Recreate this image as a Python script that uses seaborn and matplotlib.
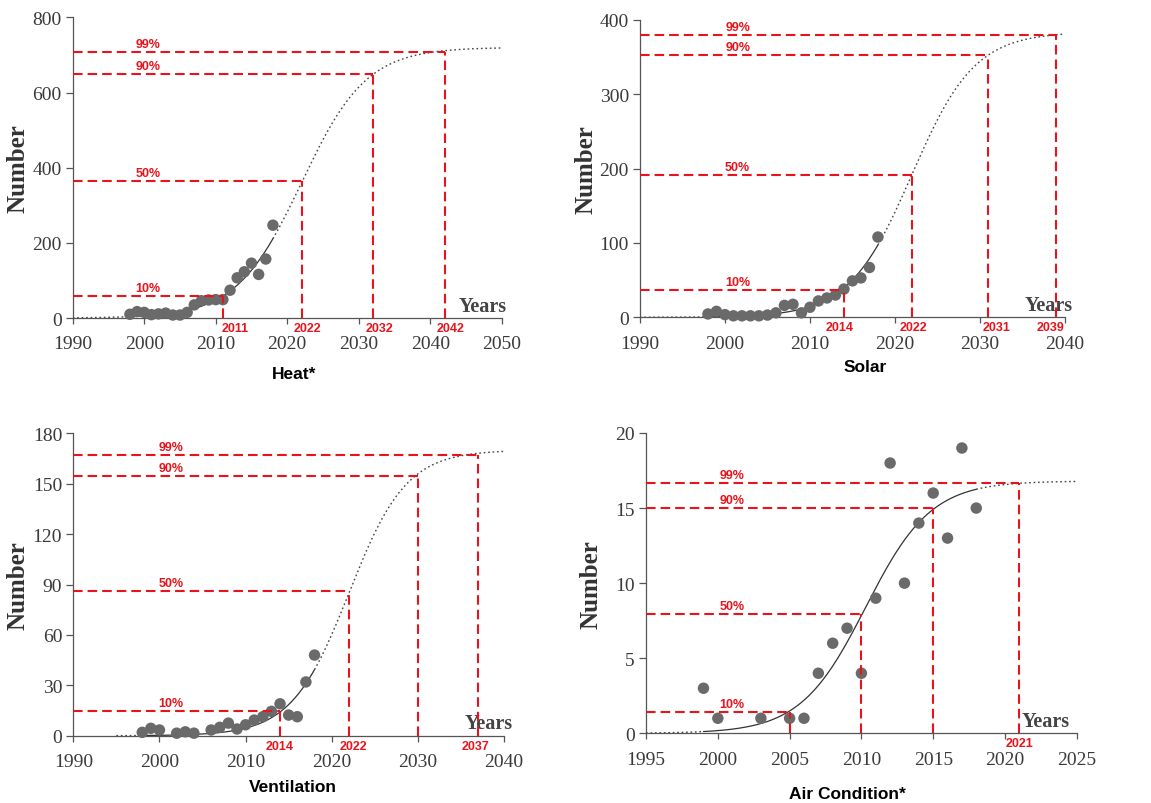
import numpy as np
import pandas as pd
import matplotlib
matplotlib.use("Agg")
import matplotlib.pyplot as plt
import seaborn as sns

# ---------------- data ----------------
heat_years = list(range(1998, 2019))
heat_values = [10, 17, 15, 9, 11, 13, 8, 8, 15, 35, 46, 48, 49, 49, 74, 107, 123, 146, 116, 157, 247]

solar_years = list(range(1998, 2019))
solar_values = [4.5, 8, 3.6, 2, 2, 2, 2, 3, 6, 16, 17.5, 6, 13.5, 22, 26, 30, 38, 49, 53, 67, 108]

vent_years = [1998, 1999, 2000, 2002, 2003, 2004, 2006, 2007, 2008, 2009, 2010,
              2011, 2012, 2013, 2014, 2015, 2016, 2017, 2018]
vent_values = [2, 4.4, 3.4, 1.5, 2.3, 1.5, 3.4, 5, 7.5, 4, 6.5, 9.3, 11.3, 14.5, 19, 12.3, 11.3, 32, 48]

air_years = [1999, 2000, 2003, 2005, 2006, 2007, 2008, 2009, 2010, 2011, 2012,
             2013, 2014, 2015, 2016, 2017, 2018]
air_values = [3, 1, 1, 1, 1, 4, 6, 7, 4, 9, 18, 10, 14, 16, 13, 19, 15]

# fitted logistic parameters: saturation K, growth rate r, midpoint t0
heat_fit = dict(K=720, r=0.22, t0=2022)
solar_fit = dict(K=384, r=0.27, t0=2022)
vent_fit = dict(K=170, r=0.30, t0=2022)
air_fit = dict(K=16.8, r=0.44, t0=2010.3)

percent_labels = ["10%", "50%", "90%", "99%"]
heat_levels = [59, 364, 648, 708]
heat_level_years = [2011, 2022, 2032, 2042]
heat_year_labels = ["2011", "2022", "2032", "2042"]

solar_levels = [37, 192, 353, 380]
solar_level_years = [2014, 2022, 2031, 2039]
solar_year_labels = ["2014", "2022", "2031", "2039"]

vent_levels = [14.5, 86, 154.5, 167]
vent_level_years = [2014, 2022, 2030, 2037]
vent_year_labels = ["2014", "2022", "", "2037"]

air_levels = [1.42, 7.95, 15.0, 16.67]
air_level_years = [2005, 2010, 2015, 2021]
air_year_labels = ["", "", "", "2021"]

heat_xticks = [1990, 2000, 2010, 2020, 2030, 2040, 2050]
heat_yticks = [0, 200, 400, 600, 800]
solar_xticks = [1990, 2000, 2010, 2020, 2030, 2040]
solar_yticks = [0, 100, 200, 300, 400]
vent_xticks = [1990, 2000, 2010, 2020, 2030, 2040]
vent_yticks = [0, 30, 60, 90, 120, 150, 180]
air_xticks = [1995, 2000, 2005, 2010, 2015, 2020, 2025]
air_yticks = [0, 5, 10, 15, 20]

titles = ["Heat*", "Solar", "Ventilation", "Air Condition*"]

# ---------------- style ----------------
sns.set_theme(style="ticks")
plt.rcParams["font.family"] = ["Liberation Sans", "DejaVu Sans"]

RED = "#e8141c"
GREY_PT = "#6a6a6a"
AX_COL = "#555555"
TXT_COL = "#3a3a3a"

fig = plt.figure(figsize=(11.51, 8.04), dpi=100)

panels = [
    dict(rect=[0.0632, 0.6032, 0.3727, 0.3740], years=heat_years, values=heat_values,
         fit=heat_fit, levels=heat_levels, lyears=heat_level_years, ylabels=heat_year_labels,
         xticks=heat_xticks, yticks=heat_yticks, curve_start=1990,
         pct_x=0.176, year_dx=[12, 6, 6, 6], years_x=1.012, title=titles[0],
         title_pos=(0.516, -0.183)),
    dict(rect=[0.5560, 0.6041, 0.3692, 0.3698], years=solar_years, values=solar_values,
         fit=solar_fit, levels=solar_levels, lyears=solar_level_years, ylabels=solar_year_labels,
         xticks=solar_xticks, yticks=solar_yticks, curve_start=1990,
         pct_x=0.23, year_dx=[-4, 2, 8, -6], years_x=1.019, title=titles[1],
         title_pos=(0.529, -0.167)),
    dict(rect=[0.0637, 0.0837, 0.3742, 0.3761], years=vent_years, values=vent_values,
         fit=vent_fit, levels=vent_levels, lyears=vent_level_years, ylabels=vent_year_labels,
         xticks=vent_xticks, yticks=vent_yticks, curve_start=1995,
         pct_x=0.227, year_dx=[0, 4, 0, -3], years_x=1.021, title=titles[2],
         title_pos=(0.51, -0.169)),
    dict(rect=[0.5613, 0.0867, 0.3742, 0.3735], years=air_years, values=air_values,
         fit=air_fit, levels=air_levels, lyears=air_level_years, ylabels=air_year_labels,
         xticks=air_xticks, yticks=air_yticks, curve_start=1995,
         pct_x=0.199, year_dx=[0, 0, 0, 0], years_x=0.984, title=titles[3],
         title_pos=(0.467, -0.202)),
]


def logistic(t, K, r, t0):
    return K / (1.0 + np.exp(-r * (t - t0)))


for p in panels:
    ax = fig.add_axes(p["rect"])
    xmin, xmax = p["xticks"][0], p["xticks"][-1]
    ymin, ymax = p["yticks"][0], p["yticks"][-1]
    f = p["fit"]
    first, last = min(p["years"]), max(p["years"])

    # fitted curve: dotted before data, solid over the data, dotted projection after
    segs = [(p["curve_start"], first, "dot"), (first, last, "solid"), (last, xmax, "dot")]
    for a, b, kind in segs:
        t = np.linspace(a, b, 300)
        df = pd.DataFrame({"t": t, "y": logistic(t, **f)})
        if kind == "solid":
            sns.lineplot(data=df, x="t", y="y", ax=ax, color="#333333", linewidth=0.9,
                         sort=False, estimator=None, zorder=3)
        else:
            sns.lineplot(data=df, x="t", y="y", ax=ax, color="#444444", linewidth=1.0,
                         linestyle=(0, (1.2, 2.0)), sort=False, estimator=None, zorder=3)

    # observed points
    pts = pd.DataFrame({"year": p["years"], "n": p["values"]})
    sns.scatterplot(data=pts, x="year", y="n", ax=ax, color=GREY_PT, s=68,
                    edgecolor="none", linewidth=0, zorder=4, clip_on=False)

    # red guide lines
    dash = (0, (4.6, 2.4))
    for lvl, yr, pct, ylab, dx in zip(p["levels"], p["lyears"], percent_labels,
                                      p["ylabels"], p["year_dx"]):
        ax.hlines(lvl, xmin, yr, colors=RED, linewidth=1.5, linestyles=[dash], zorder=5)
        ax.vlines(yr, ymin, lvl, colors=RED, linewidth=1.5, linestyles=[dash], zorder=5)
        ax.annotate(pct, xy=(p["pct_x"], lvl), xycoords=("axes fraction", "data"),
                    xytext=(0, 3.6), textcoords="offset points", ha="center",
                    va="baseline", color=RED, fontsize=9, fontweight="bold")
        if ylab:
            ax.annotate(ylab, xy=(yr, 0), xycoords="data",
                        xytext=(dx * 0.72, -7.2), textcoords="offset points",
                        ha="center", va="center", color=RED, fontsize=9,
                        fontweight="bold", annotation_clip=False)

    ax.set_xlim(xmin, xmax)
    ax.set_ylim(ymin, ymax)
    ax.set_xticks(p["xticks"])
    ax.set_yticks(p["yticks"])
    ax.set_xticklabels([str(v) for v in p["xticks"]], fontfamily="Liberation Serif",
                       fontsize=14, color=TXT_COL)
    ax.set_yticklabels([str(v) for v in p["yticks"]], fontfamily="Liberation Serif",
                       fontsize=14, color=TXT_COL)
    ax.tick_params(axis="x", length=4, width=0.9, color=AX_COL, pad=8.5)
    ax.tick_params(axis="y", length=5, width=0.9, color=AX_COL, pad=3)
    for side in ["top", "right"]:
        ax.spines[side].set_visible(False)
    for side in ["left", "bottom"]:
        ax.spines[side].set_color(AX_COL)
        ax.spines[side].set_linewidth(0.9)

    ax.set_ylabel("Number", fontfamily="Liberation Serif", fontweight="bold",
                  fontsize=18, color="#333333", va="center")
    ax.yaxis.set_label_coords(-0.128, 0.5)
    ax.set_xlabel(p["title"], fontfamily="Liberation Sans", fontweight="bold",
                  fontsize=12.5, color="black", va="center")
    ax.xaxis.set_label_coords(*p["title_pos"])

    ax.text(p["years_x"], 0.025, "Years", transform=ax.transAxes, ha="right",
            va="baseline", fontfamily="Liberation Serif", fontweight="bold",
            fontsize=14.5, color="#444444")

fig.savefig("out.png", dpi=100)
